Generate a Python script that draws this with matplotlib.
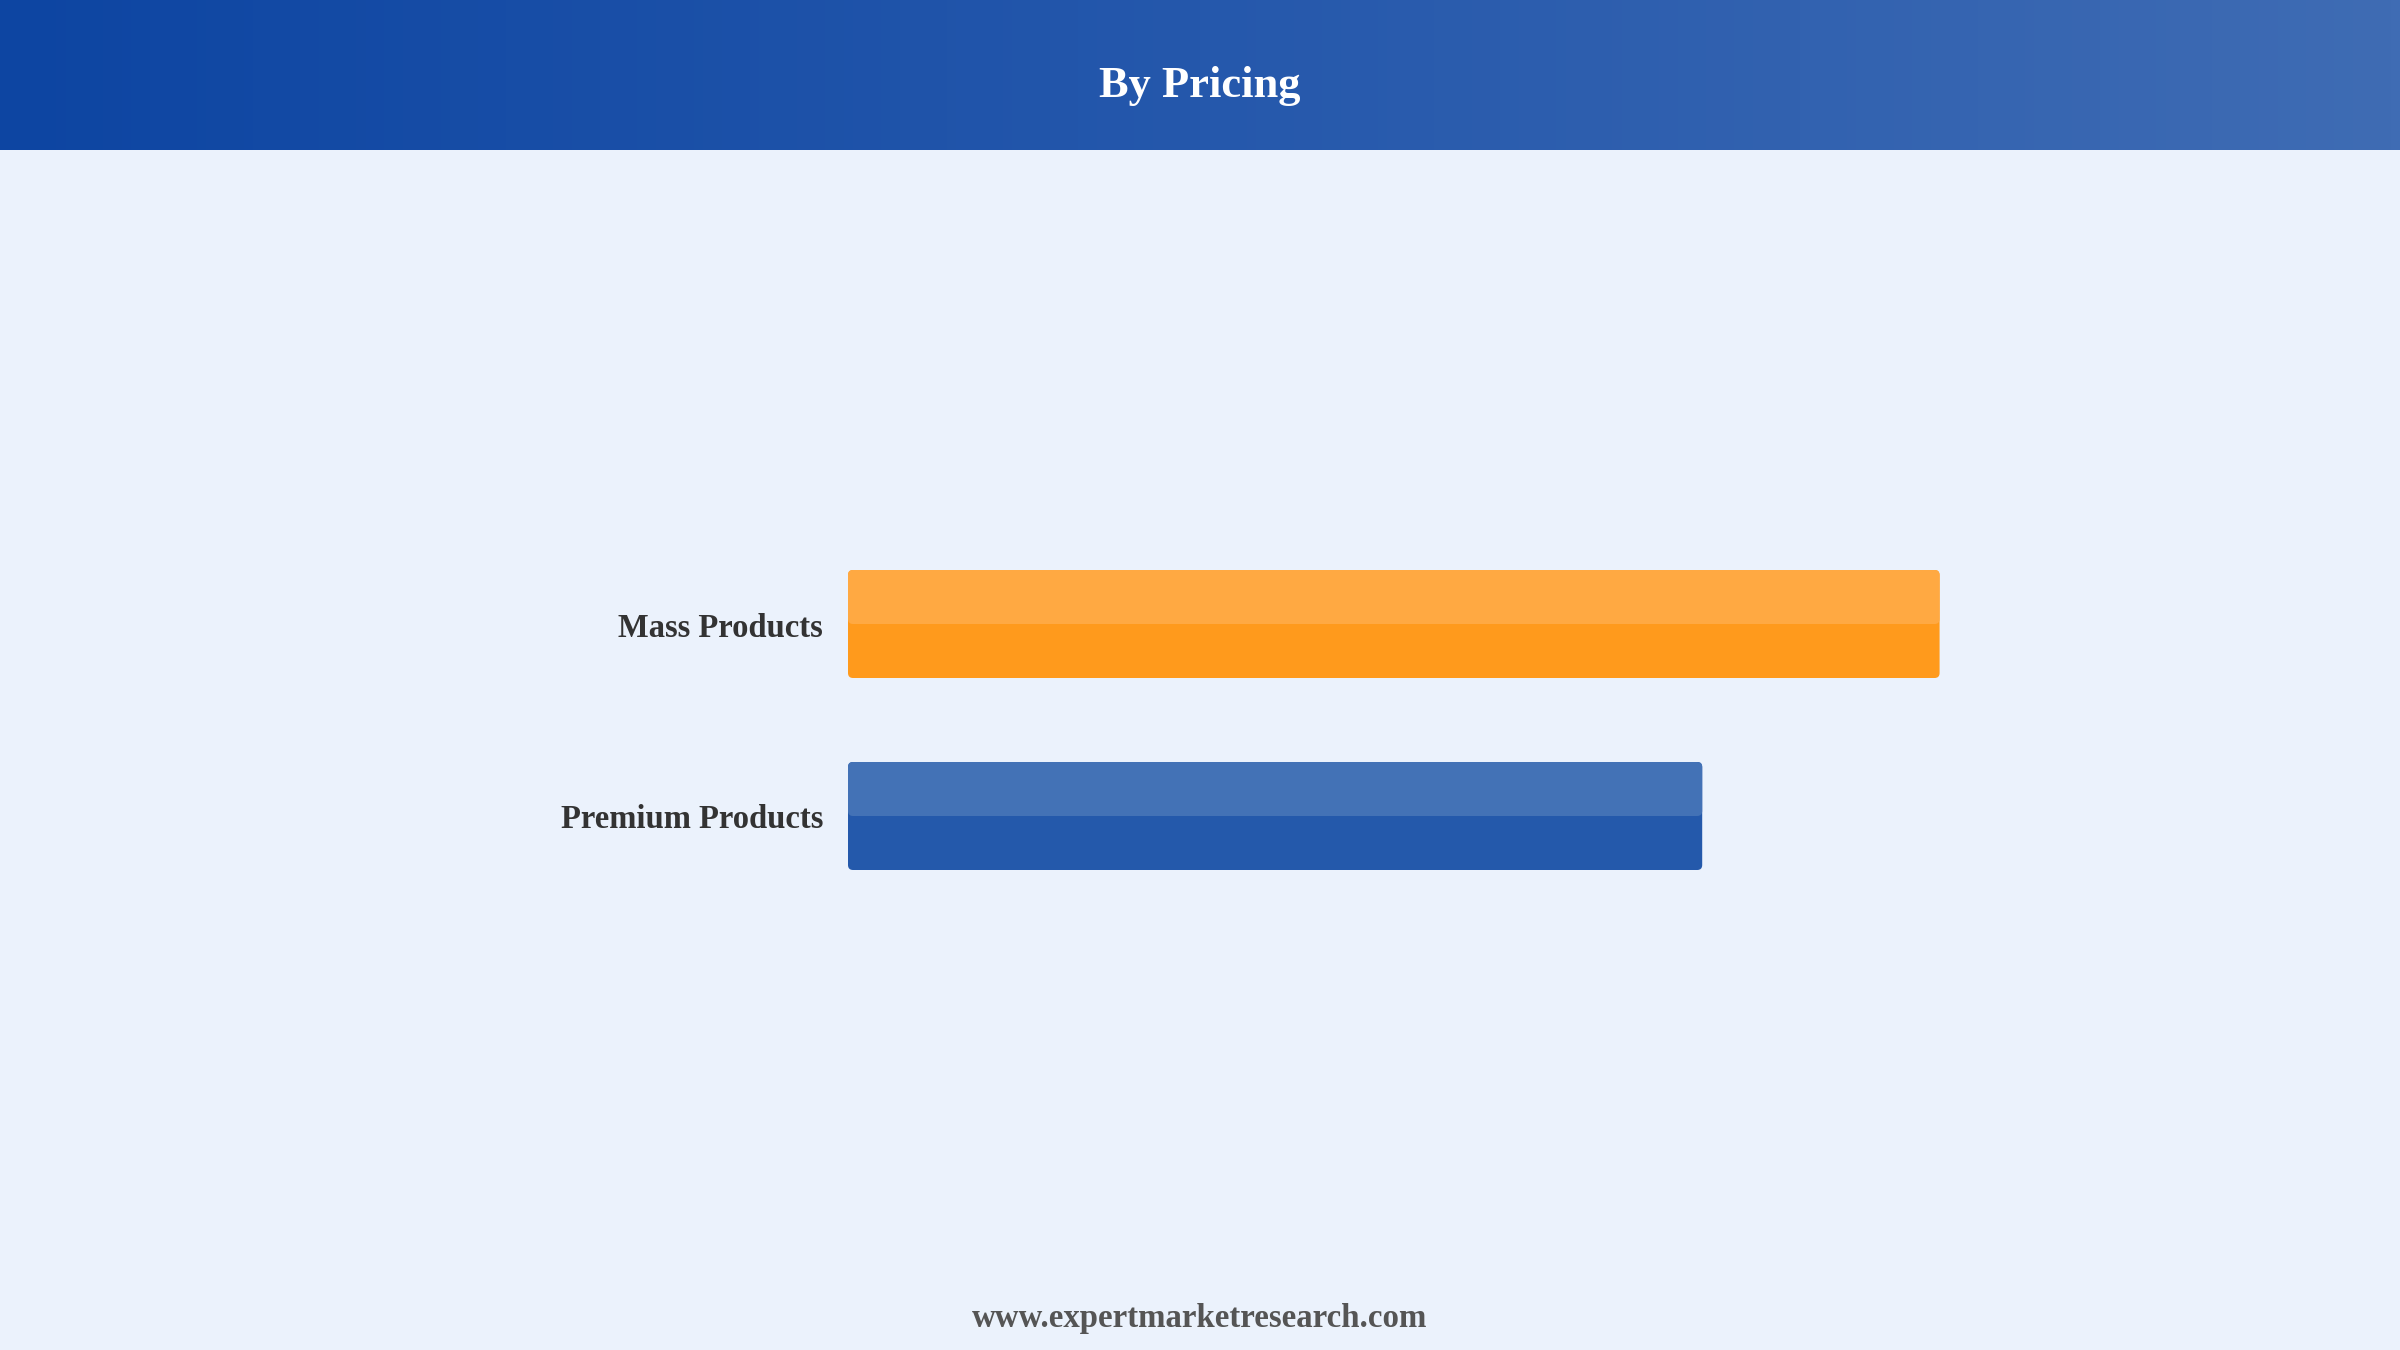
import matplotlib.pyplot as plt
import numpy as np
from matplotlib.colors import LinearSegmentedColormap
from matplotlib.patches import FancyBboxPatch

# Data
categories = ["Mass Products", "Premium Products"]
values = [56.1, 43.9]
dark_colors = ["#FF9A1C", "#2459AB"]
light_colors = ["#FFA942", "#4372B6"]

title = "By Pricing"
footer = "www.expertmarketresearch.com"

W, H, DPI = 2400, 1350, 100
BG = "#EBF2FC"

fig = plt.figure(figsize=(W / DPI, H / DPI), dpi=DPI, facecolor=BG)

# Header band with horizontal gradient
hdr = fig.add_axes([0, 1 - 150 / H, 1, 150 / H])
cmap = LinearSegmentedColormap.from_list("hdr", ["#0D45A2", "#2558AC", "#3F6CB4"])
hdr.imshow(np.linspace(0, 1, 256).reshape(1, -1), aspect="auto", cmap=cmap,
           extent=[0, 1, 0, 1])
hdr.set_axis_off()
hdr.text(0.5, 0.43, title, ha="center", va="center", color="white",
         fontsize=32, fontweight="bold", family="Liberation Serif")

# Bar chart area
x0, x1 = 848, 2212
y_top, y_bot = 528, 912
ax = fig.add_axes([x0 / W, 1 - y_bot / H, (x1 - x0) / W, (y_bot - y_top) / H])
ax.set_facecolor(BG)
xmax = 70.1
ax.set_xlim(0, xmax)
ax.set_ylim(1.5, -0.5)
ax.set_axis_off()

bar_h = 0.5625
xpp = xmax / (x1 - x0)
ypp = 2 / (y_bot - y_top)
r = 5 * xpp
aspect = ypp / xpp

for i, (cat, val) in enumerate(zip(categories, values)):
    # full bar, then lighter upper half on top
    ax.add_patch(FancyBboxPatch((0, i - bar_h / 2), val, bar_h,
                                boxstyle=f"round,pad=0,rounding_size={r}",
                                mutation_aspect=aspect, fc=dark_colors[i], ec="none"))
    ax.add_patch(FancyBboxPatch((0, i - bar_h / 2), val, bar_h / 2,
                                boxstyle=f"round,pad=0,rounding_size={r}",
                                mutation_aspect=aspect, fc=light_colors[i], ec="none"))
    ax.text(-25 * xpp, i + 4 * ypp, cat, ha="right", va="center", color="#333333",
            fontsize=23.5, fontweight="bold", family="Liberation Serif")

fig.text(0.5, 1 - 1319 / H, footer, ha="center", va="center", color="#555555",
         fontsize=23.7, fontweight="bold", family="Liberation Serif")

fig.savefig("out.png", dpi=DPI, facecolor=BG)
